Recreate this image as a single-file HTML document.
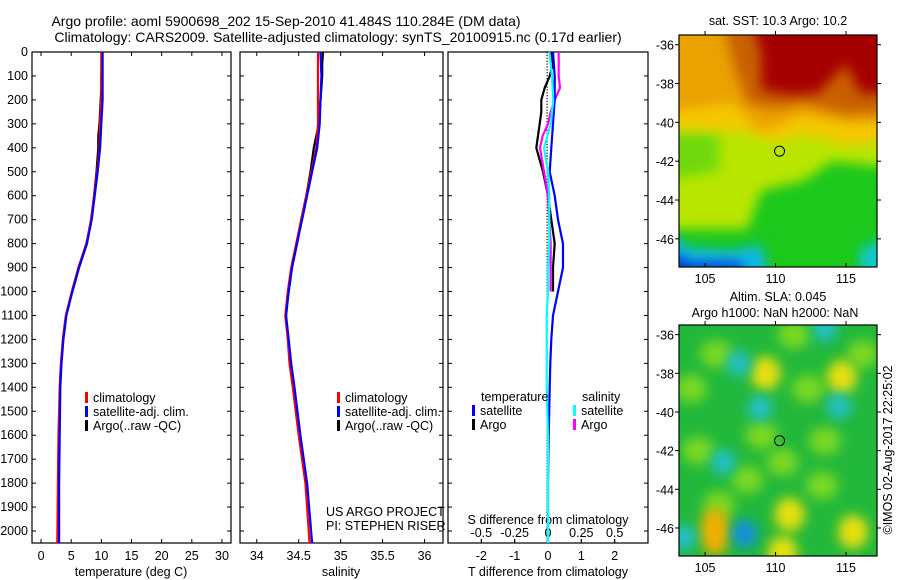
<!DOCTYPE html>
<html><head><meta charset="utf-8"><style>
body{margin:0;background:#fff;}
svg{display:block;font-family:"Liberation Sans",sans-serif;font-size:12.5px;}
</style></head><body>
<svg id="fig" width="900" height="580" viewBox="0 0 900 580">
<defs>
<filter id="bl" x="-20%" y="-20%" width="140%" height="140%"><feGaussianBlur stdDeviation="6"/></filter>
<filter id="bl2" x="-60%" y="-60%" width="220%" height="220%"><feGaussianBlur stdDeviation="6"/></filter>
<clipPath id="c1"><rect x="679" y="35" width="198" height="232"/></clipPath>
<clipPath id="c2"><rect x="679" y="325" width="198" height="231"/></clipPath>
</defs>
<text x="286" y="26" text-anchor="middle" style="font-size:14px">Argo profile: aoml 5900698_202 15-Sep-2010 41.484S 110.284E (DM data)</text>
<text x="338" y="42" text-anchor="middle" style="font-size:14px">Climatology: CARS2009. Satellite-adjusted climatology: synTS_20100915.nc (0.17d earlier)</text>
<g id="plots"></g>
</svg>
<script>
// ---- data ----
const depthT = [0,100,200,300,400,500,600,700,800,900,1000,1100,1200,1300,1400,1600,1800,2050];
const tempClim = [10.0,10.0,10.0,9.8,9.7,9.3,8.8,8.3,7.5,6.2,5.1,4.1,3.6,3.3,3.1,2.9,2.8,2.7];
const tempSat = [10.2,10.2,10.2,10.0,9.8,9.4,8.9,8.4,7.6,6.3,5.2,4.2,3.7,3.4,3.2,3.1,3.0,3.0];
const depthArgo = [0,50,100,150,200,250,300,350,400,500,600,700,800,900,1000];
const tempArgo = [10.1,10.1,10.0,10.0,9.9,9.8,9.7,9.5,9.5,9.2,8.8,8.3,7.6,6.3,5.2];
const salClim = [34.73,34.73,34.73,34.73,34.71,34.65,34.59,34.53,34.47,34.41,34.37,34.34,34.37,34.39,34.43,34.50,34.58,34.63];
const salSat = [34.76,34.77,34.76,34.75,34.72,34.66,34.60,34.54,34.48,34.42,34.38,34.35,34.38,34.41,34.45,34.52,34.60,34.66];
const salArgo = [34.79,34.78,34.78,34.77,34.76,34.75,34.74,34.71,34.68,34.64,34.59,34.53,34.48,34.42,34.38];
const dTsat = [0.15,0.2,0.2,0.15,0.1,0.05,0.2,0.3,0.45,0.45,0.3,0.15,0.1,0.07,0.05,0.02,0.0,0.0];
const dTargo = [0.1,0.15,0.05,-0.1,-0.2,-0.2,-0.25,-0.3,-0.35,-0.15,0.0,0.1,0.2,0.15,0.15];
const dSsat = [0.01,0.03,0.04,0.02,-0.03,0.0,0.01,0.01,0.01,0.0,0.0,-0.01,-0.01,-0.01,-0.01,0.0,0.0,0.0];
const dSargo = [0.08,0.08,0.08,0.09,0.05,0.02,0.0,-0.04,-0.06,-0.03,0.0,0.01,0.02,0.02,0.02];
const depthTicks = [0,100,200,300,400,500,600,700,800,900,1000,1100,1200,1300,1400,1500,1600,1700,1800,1900,2000];
const tTicks = [0,5,10,15,20,25,30];
const sTicks = [34,34.5,35,35.5,36];
const sTickLabels = ["34","34.5","35","35.5","36"];
const dTTicks = [-2,-1,0,1,2];
const dSTicks = [-0.5,-0.25,0,0.25,0.5];
const dSTickLabels = ["-0.5","-0.25","0","0.25","0.5"];
const lonTicks = [105,110,115];
const latTicks = [-36,-38,-40,-42,-44,-46];
const argoLon = 110.284, argoLat = -41.484;

const NS="http://www.w3.org/2000/svg";
const G=document.getElementById('plots');
function el(t,a,p){const e=document.createElementNS(NS,t);for(const k in a)e.setAttribute(k,a[k]);(p||G).appendChild(e);return e;}
const Y0=52,Y1=543,D0=0,D1=2050;
const yD=d=>Y0+(d-D0)/(D1-D0)*(Y1-Y0);
function panel(x0,x1,v0,v1){return {x0,x1,f:v=>x0+(v-v0)/(v1-v0)*(x1-x0)};}
const P1=panel(32,231,-1.5,31.5), P2=panel(240,443,33.8,36.22), P3=panel(448,648,-3,3);
function line(pn,xs,ds,col,name,w){
  const pts=xs.map((v,i)=>pn.f(v).toFixed(1)+','+yD(ds[i]).toFixed(1));
  const e=el('polyline',{points:pts.join(' '),fill:'none',stroke:col,'stroke-width':w||2.2});
  
  
}
function frame(pn,name){
  const r=el('rect',{x:pn.x0,y:Y0,width:pn.x1-pn.x0,height:Y1-Y0,fill:'none',stroke:'#000','stroke-width':1.2});
  
  
  depthTicks.forEach(d=>{
    el('line',{x1:pn.x0,x2:pn.x0+4,y1:yD(d),y2:yD(d),stroke:'#000'});
    el('line',{x1:pn.x1,x2:pn.x1-4,y1:yD(d),y2:yD(d),stroke:'#000'});
  });
}
function txt(x,y,s,name,anchor){const t=el('text',{x,y,'text-anchor':anchor||'start'});t.textContent=s;
  
  return t;}
function xticks(pn,ticks,labels,y,name,top){
  ticks.forEach((v,i)=>{
    const x=pn.f(v);
    el('line',{x1:x,x2:x,y1:Y1,y2:Y1-4,stroke:'#000'});
    if(top) el('line',{x1:x,x2:x,y1:Y0,y2:Y0+4,stroke:'#000'});
    txt(x,y,labels[i],name,'middle');
  });
}

// panel 1
frame(P1,'temperature-panel');
depthTicks.forEach(d=>txt(28,yD(d)+4,String(d),'depth-tick-label','end'));
xticks(P1,tTicks,tTicks.map(String),560,'temperature-tick-label',true);
txt(131,576,'temperature (deg C)','temperature-axis-title','middle');
line(P1,tempArgo,depthArgo,'#000','temperature-argo-line');
line(P1,tempClim,depthT,'#f00','temperature-climatology-line');
line(P1,tempSat,depthT,'#00f','temperature-satellite-line');
// panel 2
frame(P2,'salinity-panel');
xticks(P2,sTicks,sTickLabels,560,'salinity-tick-label',true);
txt(341,576,'salinity','salinity-axis-title','middle');
line(P2,salArgo,depthArgo,'#000','salinity-argo-line');
line(P2,salClim,depthT,'#f00','salinity-climatology-line');
line(P2,salSat,depthT,'#00f','salinity-satellite-line');
txt(326,516,'US ARGO PROJECT','project-label');
txt(326,530,'PI: STEPHEN RISER','pi-label');
function leg(x,y,col,label,name){
  const r=el('rect',{x:x,y:y-10,width:3,height:11,fill:col});
  
  
  txt(x+8,y,label,name);
}
[85,337].forEach(x=>{
  leg(x,402,'#f00','climatology','legend-climatology');
  leg(x,416,'#00f','satellite-adj. clim.','legend-satellite-adj');
  leg(x,430,'#000','Argo(..raw -QC)','legend-argo');
});
// panel 3
frame(P3,'difference-panel');
for(let d=0;d<=2050;d+=12){el('rect',{x:P3.f(0)-1.5,y:yD(d),width:1.2,height:1.2,fill:'#000'});}
xticks(P3,dTTicks,dTTicks.map(String),560,'t-diff-tick-label',false);
dSTicks.forEach((v,i)=>{const x=P3.f(v*4);el('line',{x1:x,x2:x,y1:Y1,y2:Y1-4,stroke:'#000'});
  txt(x,537,dSTickLabels[i],'s-diff-tick-label','middle');});
txt(548,576,'T difference from climatology','t-diff-axis-title','middle');
txt(548,524,'S difference from climatology','s-diff-axis-title','middle');
line(P3,dTargo,depthArgo,'#000','t-diff-argo-line');
line(P3,dSargo.map(v=>v*4),depthArgo,'#f0f','s-diff-argo-line');
line(P3,dTsat,depthT,'#00f','t-diff-satellite-line');
line(P3,dSsat.map(v=>v*4),depthT,'#0ff','s-diff-satellite-line');
txt(481,401,'temperature','legend-temperature-header');
txt(582,401,'salinity','legend-salinity-header');
leg(472,415,'#00f','satellite','legend-t-satellite');
leg(472,429,'#000','Argo','legend-t-argo');
leg(573,415,'#0ff','satellite','legend-s-satellite');
leg(573,429,'#f0f','Argo','legend-s-argo');

// maps
const MX0=679,MX1=877,L0=103.15,L1=117.2;
const mx=l=>MX0+(l-L0)/(L1-L0)*(MX1-MX0);
function mapAxes(y0,y1,name,clip,draw){
  const my=la=>y0+(-35.5-la)/(47.45-35.5)*(y1-y0);
  const g=el('g',{'clip-path':'url(#'+clip+')'});
  
  
  draw(g,my);
  const r=el('rect',{x:MX0,y:y0,width:MX1-MX0,height:y1-y0,fill:'none',stroke:'#000','stroke-width':1.2});
  
  
  lonTicks.forEach(l=>{el('line',{x1:mx(l),x2:mx(l),y1:y0,y2:y0-4,stroke:'#000'});el('line',{x1:mx(l),x2:mx(l),y1:y1,y2:y1-4,stroke:'#000'});
    txt(mx(l),y1+16,String(l),name+'-lon-label','middle');});
  latTicks.forEach(a=>{el('line',{x1:MX0-4,x2:MX0,y1:my(a),y2:my(a),stroke:'#000'});el('line',{x1:MX1,x2:MX1+4,y1:my(a),y2:my(a),stroke:'#000'});
    txt(MX0-5,my(a)+5,String(a),name+'-lat-label','end');});
  const c=el('circle',{cx:mx(argoLon),cy:my(argoLat),r:5,fill:'none',stroke:'#000'});
  
  
}
function poly(g,my,pts,col,f){const p=pts.map(q=>mx(q[0])+','+my(q[1])).join(' ');el('polygon',{points:p,fill:col,filter:'url(#'+(f||'bl')+')'},g);}
function blob(g,my,lo,la,rx,ry,col){el('ellipse',{cx:mx(lo),cy:my(la),rx:rx,ry:ry,fill:col,filter:'url(#bl2)'},g);}
mapAxes(35,267,'sst-map','c1',(g,my)=>{
  el('rect',{x:660,y:20,width:240,height:260,fill:'#1cc81c'},g);
  poly(g,my,[[102,-39],[118,-39],[118,-42.3],[114,-42],[112,-43],[109,-43.5],[108,-45.5],[102,-45.5]],'#b8e600');
  poly(g,my,[[102,-40.5],[106,-40.5],[106,-42.5],[102,-43]],'#70d810');
  poly(g,my,[[102,-34],[118,-34],[118,-41],[115,-41.2],[112,-40.6],[110,-41],[108,-40.5],[102,-40.3]],'#f5c800');
  poly(g,my,[[102,-34],[118,-34],[118,-40],[115,-40],[112,-39.6],[109,-40.5],[107,-39],[102,-39.5]],'#eaa200');
  poly(g,my,[[106,-34],[118,-34],[118,-39.5],[115,-39.6],[112,-39],[110,-39.3],[108,-39],[107,-37]],'#c86000');
  poly(g,my,[[108,-34],[118,-34],[118,-38.5],[116,-38.5],[115,-37],[113,-38.5],[111,-38.6],[109,-38.3],[109,-36.5]],'#a50000');
  poly(g,my,[[102,-45.5],[104,-46.5],[107,-46.6],[109,-46.3],[109.5,-48],[102,-48]],'#10b8e8');
  poly(g,my,[[102,-46.5],[104,-47.2],[107.5,-47.2],[108,-48],[102,-48]],'#0040d0');
  poly(g,my,[[116,-46.5],[118,-46],[118,-48],[116,-48]],'#10c8d0');
});
txt(778,25,'sat. SST: 10.3 Argo: 10.2','sst-map-title','middle');
mapAxes(325,556,'sla-map','c2',(g,my)=>{
  el('rect',{x:660,y:310,width:240,height:260,fill:'#22b83c'},g);
  [[104,-38.8],[105.8,-37],[111.3,-36],[112.3,-38.8],[110.5,-42.6],[109,-41.2],[113.5,-41.5],[113.3,-43.8],[116.2,-37],[106,-44.8],[104.5,-42],[108,-43.5]].forEach(p=>blob(g,my,p[0],p[1],16,14,'#7ad820'));
  [[109.3,-38],[114.7,-38.2],[111,-45.3],[110.5,-47.3],[115.5,-46.2]].forEach(p=>blob(g,my,p[0],p[1],15,17,'#e8e010'));
  blob(g,my,105.7,-46.2,15,24,'#f0b000');
  [[107.4,-37.5],[108.9,-39.8],[114.5,-39.7],[106.3,-42.6],[113.5,-35.7],[103.5,-46.5]].forEach(p=>blob(g,my,p[0],p[1],12,13,'#20c0c8'));
  blob(g,my,107.8,-46.3,13,14,'#1090e0');
});
txt(778,301,'Altim. SLA: 0.045','sla-map-title-1','middle');
txt(775,317,'Argo h1000: NaN h2000: NaN','sla-map-title-2','middle');
const cr=txt(0,0,'©IMOS 02-Aug-2017 22:25:02','timestamp-label','middle');
cr.setAttribute('transform','translate(892,450) rotate(-90)');
</script>
</body></html>
